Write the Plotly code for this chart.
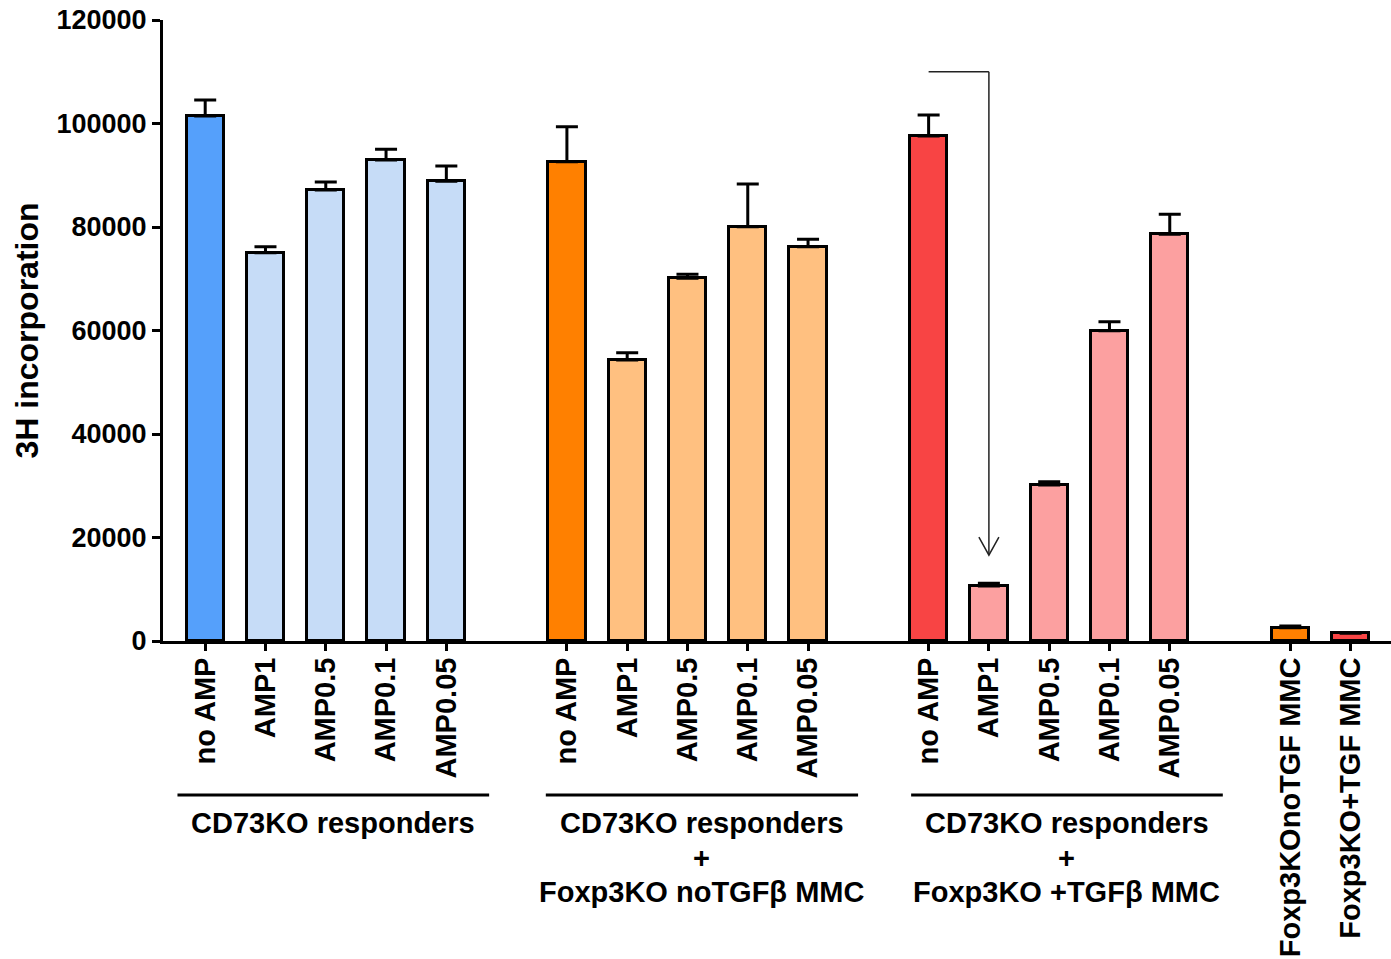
import plotly.graph_objects as go

# ---- data ----
dose_labels = ["no AMP", "AMP1", "AMP0.5", "AMP0.1", "AMP0.05"]
ctrl_labels = ["Foxp3KOnoTGF MMC", "Foxp3KO+TGF MMC"]

g1_values = [101450, 75030, 87150, 92950, 88830]
g1_errors = [3090, 1160, 1550, 2070, 2960]
g2_values = [92620, 54300, 70090, 80060, 76190]
g2_errors = [6760, 1410, 770, 8250, 1420]
g3_values = [97580, 10630, 30150, 59960, 78580]
g3_errors = [4060, 520, 640, 1740, 3870]
ctrl_values = [2570, 1480]
ctrl_errors = [330, 160]

y_ticks = [0, 20000, 40000, 60000, 80000, 100000, 120000]

group_titles = [
    ["CD73KO responders"],
    ["CD73KO responders", "+", "Foxp3KO noTGFβ MMC"],
    ["CD73KO responders", "+", "Foxp3KO +TGFβ MMC"],
]
arrow_top_value = 110000
arrow_tip_value = 16600

# ---- styling ----
FONT = "Liberation Sans, Arial, Helvetica, sans-serif"
g1_colors = ["#55A0FB"] + ["#C6DCF7"] * 4
g2_colors = ["#FF8000"] + ["#FFC080"] * 4
g3_colors = ["#F84444"] + ["#FCA0A0"] * 4
ctrl_colors = ["#FF8000", "#F84444"]

SLOT = 6  # each group takes 5 bars + 1 gap
g1_x = [i for i in range(5)]
g2_x = [SLOT + i for i in range(5)]
g3_x = [2 * SLOT + i for i in range(5)]
ctrl_x = [3 * SLOT + i for i in range(2)]

fig = go.Figure()

def add_group(xs, ys, errs, colors):
    fig.add_trace(go.Bar(
        x=xs, y=ys, width=0.62,
        marker=dict(color=colors, line=dict(color="black", width=3)),
        error_y=dict(type="data", symmetric=False, array=errs,
                     arrayminus=[0] * len(errs),
                     color="black", thickness=3, width=11),
        showlegend=False,
    ))

add_group(g1_x, g1_values, g1_errors, g1_colors)
add_group(g2_x, g2_values, g2_errors, g2_colors)
add_group(g3_x, g3_values, g3_errors, g3_colors)
add_group(ctrl_x, ctrl_values, ctrl_errors, ctrl_colors)

tickvals = g1_x + g2_x + g3_x + ctrl_x
ticktext = dose_labels * 3 + ctrl_labels

W, H = 1391, 959
TOP, BOTTOM = 20, 641          # pixel rows of plot top / bottom
plot_h = BOTTOM - TOP
def py(pix):
    return (BOTTOM - pix) / plot_h

line_starts = [-0.46, 5.65, 11.71]
line_ends = [4.71, 10.83, 16.88]
line_y = py(795)
text_centers = [823, 858, 892]
for s, e, lines in zip(line_starts, line_ends, group_titles):
    fig.add_shape(type="line", xref="x", yref="paper", x0=s, x1=e,
                  y0=line_y, y1=line_y, line=dict(color="black", width=3))
    for ln, yc in zip(lines, text_centers):
        fig.add_annotation(x=(s + e) / 2, y=py(yc), xref="x", yref="paper",
                           text=ln, showarrow=False, xanchor="center", yanchor="middle",
                           font=dict(family=FONT, size=29, color="black", weight="bold"))

# arrow from no AMP to AMP1 in third group
ax0 = g3_x[0]
ax1 = g3_x[1]
fig.add_shape(type="line", xref="x", yref="y", x0=ax0, x1=ax1,
              y0=arrow_top_value, y1=arrow_top_value,
              line=dict(color="#222222", width=1.5))
fig.add_shape(type="line", xref="x", yref="y", x0=ax1, x1=ax1,
              y0=arrow_top_value, y1=arrow_tip_value,
              line=dict(color="#222222", width=1.5))
fig.add_shape(type="path", xref="x", yref="y",
              xsizemode="pixel", ysizemode="pixel",
              xanchor=ax1, yanchor=arrow_tip_value,
              path="M -10,18 L 0,0 L 10,18",
              line=dict(color="#222222", width=1.5))

fig.update_layout(
    width=W, height=H,
    margin=dict(l=163, r=0, t=TOP, b=H - BOTTOM, autoexpand=False),
    plot_bgcolor="white", paper_bgcolor="white",
    bargap=0,
    hovermode=False,
    font=dict(family=FONT, color="black"),
    xaxis=dict(
        range=[-0.70, 19.67],
        tickmode="array", tickvals=tickvals, ticktext=ticktext,
        tickangle=-90,
        tickfont=dict(family=FONT, size=29, color="black", weight="bold"),
        ticks="outside", ticklen=7, tickwidth=3, tickcolor="black",
        showline=True, linecolor="black", linewidth=3,
        showgrid=False, zeroline=False,
        ticklabelstandoff=-5, automargin=False,
        ticklabeloverflow="allow",
    ),
    yaxis=dict(
        range=[0, 120000],
        tickmode="array", tickvals=y_ticks,
        ticktext=[str(v) for v in y_ticks],
        tickfont=dict(family=FONT, size=27, color="black", weight="bold"),
        ticks="outside", ticklen=8, tickwidth=3, tickcolor="black",
        showline=True, linecolor="black", linewidth=3,
        showgrid=False, zeroline=False,
        ticklabelstandoff=0, automargin=False,
        ticklabeloverflow="allow",
        title=dict(text="3H incorporation", standoff=9,
                   font=dict(family=FONT, size=32, color="black", weight="bold")),
    ),
)

fig.write_html(
    "out.html",
    config={"displayModeBar": False},
    post_script="document.body.style.margin='0px';document.body.style.overflow='hidden';",
)
